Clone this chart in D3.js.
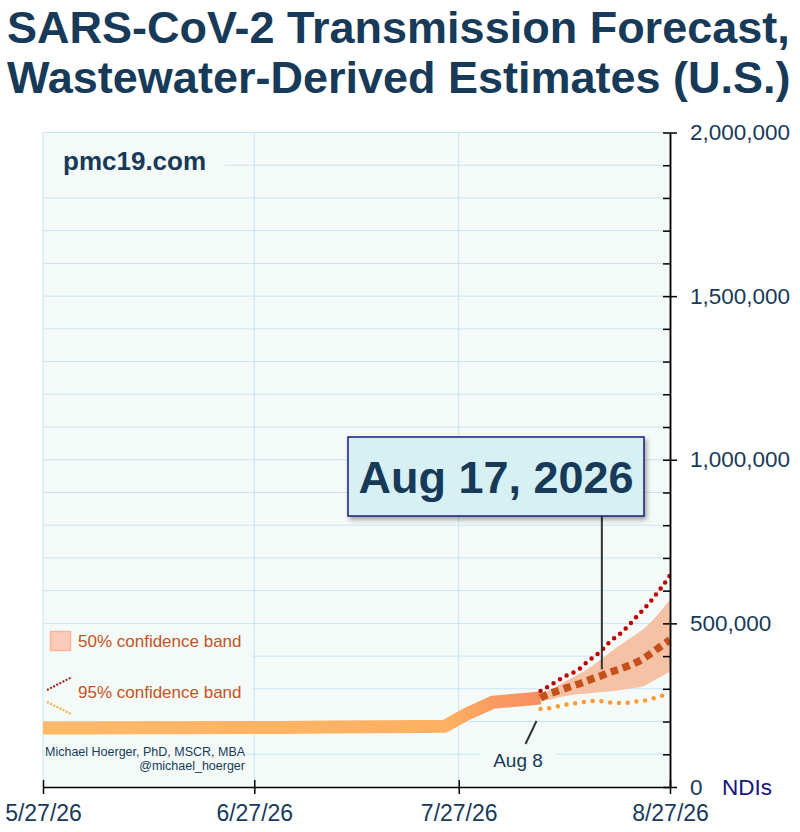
<!DOCTYPE html>
<html>
<head>
<meta charset="utf-8">
<script src="https://cdn.jsdelivr.net/npm/d3@7"></script>
<style>
  body { margin: 0; background: #fff; }
  svg { display: block; font-family: "Liberation Sans", Arial, sans-serif; }
</style>
</head>
<body>
<div id="chart"></div>
<script>
// observed (wastewater-derived) estimates
var obsDates = ["2026-05-27", "2026-06-03", "2026-06-10", "2026-06-17", "2026-06-24", "2026-07-01",
                "2026-07-08", "2026-07-15", "2026-07-22", "2026-07-25", "2026-07-28", "2026-08-01", "2026-08-08"];
var obsValues = [180000, 180000, 181000, 181000, 182000, 182000,
                 183000, 184000, 185000, 186000, 221000, 259000, 272000];

// forecast, Aug 8 .. Aug 27
var fcDates = ["2026-08-08", "2026-08-09", "2026-08-10", "2026-08-11", "2026-08-12", "2026-08-13", "2026-08-14",
               "2026-08-15", "2026-08-16", "2026-08-17", "2026-08-18", "2026-08-19", "2026-08-20", "2026-08-21",
               "2026-08-22", "2026-08-23", "2026-08-24", "2026-08-25", "2026-08-26", "2026-08-27"];
var fcMedian = [272000, 283000, 290000, 297000, 304000, 311000, 318000, 326000, 334000, 341000,
                349000, 356000, 363000, 371000, 380000, 391000, 405000, 420000, 435000, 450000];
var fcLo50 = [262000, 265000, 270000, 275000, 279000, 282000, 284000, 286000, 288000, 290000,
              292000, 294000, 297000, 300000, 303000, 307000, 318000, 330000, 341000, 352000];
var fcHi50 = [275000, 292000, 303000, 315000, 327000, 338000, 349000, 362000, 377000, 392000,
              408000, 424000, 438000, 452000, 466000, 481000, 500000, 522000, 547000, 572000];
var fcLo95 = [238000, 240000, 244000, 249000, 253000, 256000, 259000, 261000, 263000, 262000,
              259000, 257000, 256000, 258000, 261000, 263000, 268000, 274000, 280000, 287000];
var fcHi95 = [293000, 305000, 318000, 331000, 343000, 352000, 366000, 385000, 400000, 418000,
              440000, 458000, 474000, 495000, 518000, 540000, 563000, 590000, 617000, 647000];

var xTicks = ["2026-05-27", "2026-06-27", "2026-07-27", "2026-08-27"];
var yTicks = [0, 500000, 1000000, 1500000, 2000000];
var peakDate = "2026-08-17";
var lastObsDate = "2026-08-08";

var W = 800, H = 832;
var navy = '#173a59';
var parse = d3.utcParse('%Y-%m-%d');

var svg = d3.select('#chart').append('svg').attr('width', W).attr('height', H);

var x = d3.scaleUtc().domain([parse(xTicks[0]), parse(xTicks[3])]).range([43, 670]);
var y = d3.scaleLinear().domain([0, 2000000]).range([787, 132.5]);

var defs = svg.append('defs');
defs.append('clipPath').attr('id', 'plotclip')
  .append('rect').attr('x', 43).attr('y', 132).attr('width', 627).attr('height', 655);
var grad = defs.append('linearGradient').attr('id', 'obsgrad')
  .attr('gradientUnits', 'userSpaceOnUse').attr('x1', x(parse(obsDates[0]))).attr('x2', x(parse(lastObsDate)))
  .attr('y1', 0).attr('y2', 0);
grad.append('stop').attr('offset', 0).attr('stop-color', '#fdb968');
grad.append('stop').attr('offset', 0.82).attr('stop-color', '#fdb062');
grad.append('stop').attr('offset', 0.9).attr('stop-color', '#fa9c62');
grad.append('stop').attr('offset', 1).attr('stop-color', '#f78e60');
var shadow = defs.append('filter').attr('id', 'shadow').attr('x', '-10%').attr('y', '-20%')
  .attr('width', '120%').attr('height', '150%');
shadow.append('feDropShadow').attr('dx', 2).attr('dy', 3).attr('stdDeviation', 2.5)
  .attr('flood-color', '#000').attr('flood-opacity', 0.35);

// title
var title = svg.append('text').attr('x', 7).attr('fill', navy)
  .style('font-size', '45px').style('font-weight', 'bold');
title.append('tspan').attr('x', 7).attr('y', 43).text('SARS-CoV-2 Transmission Forecast,');
title.append('tspan').attr('x', 7).attr('y', 93).text('Wastewater-Derived Estimates (U.S.)');

// plot background + grid
svg.append('rect').attr('x', 43).attr('y', 132.5).attr('width', 627).attr('height', 654.5)
  .attr('fill', '#f3faf8');

var grid = svg.append('g').attr('stroke', '#c8e4f4').attr('stroke-width', 1);
grid.selectAll('line.h').data(d3.range(100000, 2000001, 100000)).join('line')
  .attr('x1', 43).attr('x2', 670).attr('y1', d => y(d)).attr('y2', d => y(d));
grid.selectAll('line.v').data(xTicks.slice(0, 3)).join('line')
  .attr('x1', d => x(parse(d))).attr('x2', d => x(parse(d))).attr('y1', 132.5).attr('y2', 787);

// text backgrounds that hide grid lines
var bg = '#f3faf8';
svg.append('rect').attr('x', 44).attr('y', 150).attr('width', 181).attr('height', 30).attr('fill', bg);
svg.append('rect').attr('x', 44).attr('y', 627).attr('width', 208).attr('height', 90).attr('fill', bg);
svg.append('rect').attr('x', 44).attr('y', 740).attr('width', 203).attr('height', 36).attr('fill', bg);
svg.append('rect').attr('x', 480).attr('y', 748).attr('width', 76).attr('height', 26).attr('fill', bg);

svg.append('text').attr('x', 63).attr('y', 170).attr('fill', navy)
  .style('font-size', '26px').style('font-weight', 'bold').text('pmc19.com');

// series
var plot = svg.append('g').attr('clip-path', 'url(#plotclip)');
var obs = obsDates.map((d, i) => ({ date: parse(d), v: obsValues[i] }));
var fc = fcDates.map((d, i) => ({
  date: parse(d), med: fcMedian[i], lo50: fcLo50[i], hi50: fcHi50[i], lo95: fcLo95[i], hi95: fcHi95[i]
}));

plot.append('path').datum(fc)
  .attr('d', d3.area().x(d => x(d.date)).y0(d => y(d.lo50)).y1(d => y(d.hi50)).curve(d3.curveMonotoneX))
  .attr('fill', '#f6c2a6');

plot.append('path').datum(obs)
  .attr('d', d3.line().x(d => x(d.date)).y(d => y(d.v)))
  .attr('fill', 'none').attr('stroke', 'url(#obsgrad)').attr('stroke-width', 13)
  .attr('stroke-linejoin', 'round');

var fcLine = key => d3.line().x(d => x(d.date)).y(d => y(d[key])).curve(d3.curveMonotoneX);
plot.append('path').datum(fc).attr('d', fcLine('hi95'))
  .attr('fill', 'none').attr('stroke', '#c00000').attr('stroke-width', 4.5)
  .attr('stroke-linecap', 'round').attr('stroke-dasharray', '0,7.6');
plot.append('path').datum(fc).attr('d', fcLine('lo95'))
  .attr('fill', 'none').attr('stroke', '#fd9a35').attr('stroke-width', 4.5)
  .attr('stroke-linecap', 'round').attr('stroke-dasharray', '0,8.8');
plot.append('path').datum(fc).attr('d', fcLine('med'))
  .attr('fill', 'none').attr('stroke', '#c4501c').attr('stroke-width', 7.5)
  .attr('stroke-dasharray', '7.5,5');

// legend
svg.append('rect').attr('x', 50.5).attr('y', 631.5).attr('width', 20).attr('height', 19)
  .attr('fill', '#fdcbb9').attr('stroke', '#fbb596').attr('stroke-width', 1.5);
var legText = svg.append('g').attr('fill', '#c4531d').style('font-size', '17px');
legText.append('text').attr('x', 78).attr('y', 647).text('50% confidence band');
legText.append('text').attr('x', 78).attr('y', 698).text('95% confidence band');
svg.append('line').attr('x1', 47).attr('y1', 690).attr('x2', 72).attr('y2', 677)
  .attr('stroke', '#9e1a1a').attr('stroke-width', 2).attr('stroke-dasharray', '2,1.5');
svg.append('line').attr('x1', 47).attr('y1', 702).attr('x2', 71).attr('y2', 714)
  .attr('stroke', '#fdaa35').attr('stroke-width', 2).attr('stroke-dasharray', '2,1.5');

// credits
var cred = svg.append('g').attr('fill', navy).style('font-size', '12.5px');
cred.append('text').attr('x', 45).attr('y', 756).text('Michael Hoerger, PhD, MSCR, MBA');
cred.append('text').attr('x', 245).attr('y', 770).attr('text-anchor', 'end').text('@michael_hoerger');

// axes
var yMinor = svg.append('g').attr('transform', 'translate(670,0)')
  .call(d3.axisRight(y).tickValues(d3.range(0, 2000001, 100000)).tickSizeInner(-7).tickSizeOuter(0).tickFormat(''));
var yMajor = svg.append('g').attr('transform', 'translate(670,0)')
  .call(d3.axisRight(y).tickValues(yTicks).tickSizeInner(7).tickSizeOuter(0).tickPadding(13)
    .tickFormat(d3.format(',')));
[yMinor, yMajor].forEach(g => g.selectAll('line, path').attr('stroke', '#000').attr('stroke-width', 1.5));
yMajor.selectAll('text').attr('fill', navy).style('font-size', '22.5px')
  .style('font-family', '"Liberation Sans", Arial, sans-serif');

svg.append('text').attr('x', 722).attr('y', 795).attr('fill', '#15157a')
  .style('font-size', '22.5px').text('NDIs');

var xAxis = svg.append('g').attr('transform', 'translate(0,787)')
  .call(d3.axisBottom(x).tickValues(xTicks.map(parse)).tickFormat(d3.utcFormat('%-m/%-d/%y'))
    .tickSizeInner(7).tickSizeOuter(0).tickPadding(11));
xAxis.selectAll('line, path').attr('stroke', '#000').attr('stroke-width', 1.5);
xAxis.selectAll('.tick line').attr('y1', -7);
xAxis.selectAll('text').attr('fill', navy).style('font-size', '23px')
  .style('font-family', '"Liberation Sans", Arial, sans-serif');

// annotation: peak date box
var px = x(parse(peakDate));
var pMed = fcMedian[fcDates.indexOf(peakDate)];
svg.append('line').attr('x1', px).attr('x2', px).attr('y1', 516).attr('y2', y(pMed) - 6)
  .attr('stroke', '#333').attr('stroke-width', 2);
svg.append('rect').attr('x', 348).attr('y', 437).attr('width', 296).attr('height', 79)
  .attr('fill', '#d7f0f4').attr('stroke', '#1d1d7a').attr('stroke-width', 1.5)
  .attr('filter', 'url(#shadow)');
svg.append('text').attr('x', 496).attr('y', 493).attr('text-anchor', 'middle').attr('fill', navy)
  .style('font-size', '45px').style('font-weight', 'bold').text('Aug 17, 2026');

// annotation: last observed
var lx = x(parse(lastObsDate));
svg.append('line').attr('x1', lx - 4).attr('y1', 721).attr('x2', lx - 15).attr('y2', 744)
  .attr('stroke', '#333').attr('stroke-width', 2);
svg.append('text').attr('x', 518).attr('y', 767).attr('text-anchor', 'middle').attr('fill', navy)
  .style('font-size', '19px').text('Aug 8');
</script>
</body>
</html>
